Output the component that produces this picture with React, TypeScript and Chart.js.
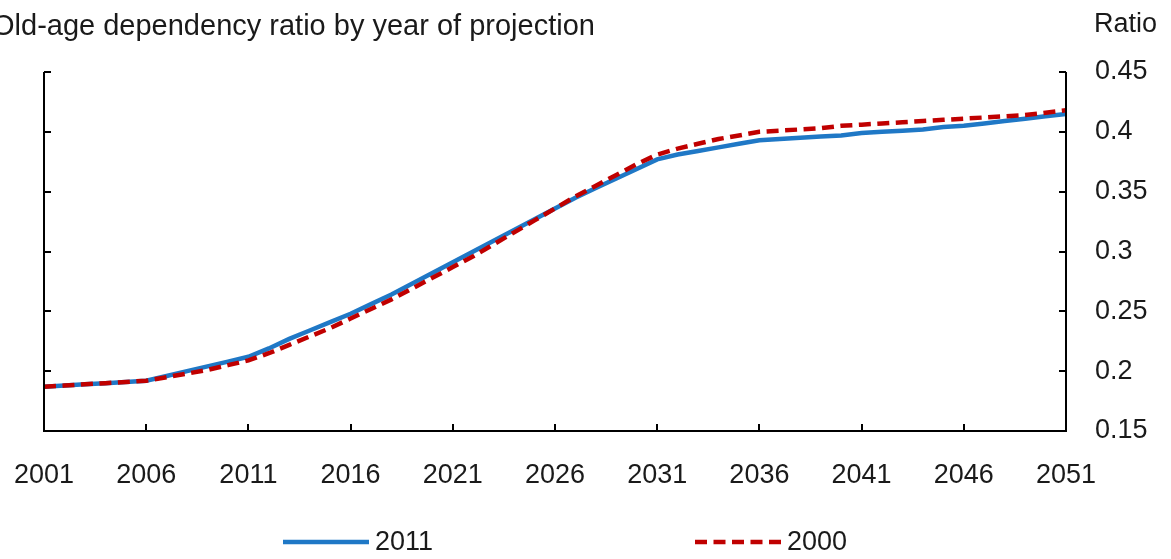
import React, { useEffect, useRef } from "react";
import { Chart, registerables } from "chart.js";

Chart.register(...registerables);

const years: number[] = [
  2001, 2002, 2003, 2004, 2005, 2006, 2007, 2008, 2009, 2010,
  2011, 2012, 2013, 2014, 2015, 2016, 2017, 2018, 2019, 2020,
  2021, 2022, 2023, 2024, 2025, 2026, 2027, 2028, 2029, 2030,
  2031, 2032, 2033, 2034, 2035, 2036, 2037, 2038, 2039, 2040,
  2041, 2042, 2043, 2044, 2045, 2046, 2047, 2048, 2049, 2050, 2051,
];

const series2011: number[] = [
  0.187, 0.188, 0.189, 0.190, 0.191, 0.192, 0.196, 0.200, 0.204, 0.208,
  0.212, 0.219, 0.227, 0.234, 0.241, 0.248, 0.256, 0.264, 0.273, 0.282,
  0.291, 0.300, 0.309, 0.318, 0.327, 0.336, 0.345, 0.353, 0.361, 0.369,
  0.377, 0.381, 0.384, 0.387, 0.390, 0.393, 0.394, 0.395, 0.396, 0.397,
  0.399, 0.400, 0.401, 0.402, 0.404, 0.405, 0.407, 0.409, 0.411, 0.413, 0.415,
];

const series2000: number[] = [
  0.187, 0.188, 0.189, 0.190, 0.191, 0.192, 0.195, 0.198, 0.201, 0.205,
  0.209, 0.215, 0.222, 0.229, 0.236, 0.244, 0.252, 0.260, 0.269, 0.278,
  0.287, 0.296, 0.306, 0.316, 0.326, 0.336, 0.346, 0.355, 0.364, 0.373,
  0.381, 0.386, 0.390, 0.394, 0.397, 0.400, 0.401, 0.402, 0.403, 0.405,
  0.406, 0.407, 0.408, 0.409, 0.410, 0.411, 0.412, 0.413, 0.414, 0.416, 0.418,
];

const seriesLabels: string[] = ["2011", "2000"];
const xTicks: number[] = [2001, 2006, 2011, 2016, 2021, 2026, 2031, 2036, 2041, 2046, 2051];
const yTicks: number[] = [0.15, 0.2, 0.25, 0.3, 0.35, 0.4, 0.45];

const titleText = "Old-age dependency ratio by year of projection";
const unitText = "Ratio";

const BLUE = "#1f78c6";
const RED = "#c00000";
const FONT = "'Liberation Sans', Arial, sans-serif";
const TEXT = "#1a1a1a";
const DASH = [12, 6.5];

const decorPlugin = {
  id: "decor",
  afterDraw(chart: any) {
    const ctx = chart.ctx as CanvasRenderingContext2D;
    const area = chart.chartArea;
    const xs = chart.scales.x;
    const ys = chart.scales.y;
    ctx.save();
    ctx.strokeStyle = "#000";
    ctx.lineWidth = 2;
    ctx.beginPath();
    ctx.moveTo(area.left, area.top);
    ctx.lineTo(area.left, area.bottom);
    ctx.lineTo(area.right, area.bottom);
    ctx.lineTo(area.right, area.top);
    ctx.stroke();
    const tl = 7;
    ctx.beginPath();
    xTicks.forEach((t) => {
      const px = Math.round(xs.getPixelForValue(t));
      ctx.moveTo(px, area.bottom);
      ctx.lineTo(px, area.bottom - tl);
    });
    yTicks.forEach((t) => {
      const py = Math.round(ys.getPixelForValue(t));
      ctx.moveTo(area.left, py);
      ctx.lineTo(area.left + tl, py);
      ctx.moveTo(area.right, py);
      ctx.lineTo(area.right - tl, py);
    });
    ctx.stroke();
    ctx.fillStyle = TEXT;
    ctx.textBaseline = "middle";
    ctx.textAlign = "left";
    ctx.font = `29px ${FONT}`;
    ctx.fillText(titleText, -8, 27);
    ctx.font = `27px ${FONT}`;
    ctx.fillText(unitText, 1094, 25);
    const ly = 542;
    const items = [
      { x: 283, color: BLUE, dash: [] as number[], label: seriesLabels[0] },
      { x: 695, color: RED, dash: DASH, label: seriesLabels[1] },
    ];
    items.forEach((it) => {
      ctx.strokeStyle = it.color;
      ctx.lineWidth = 4.5;
      ctx.setLineDash(it.dash);
      ctx.beginPath();
      ctx.moveTo(it.x, ly);
      ctx.lineTo(it.x + 86, ly);
      ctx.stroke();
      ctx.setLineDash([]);
      ctx.fillText(it.label, it.x + 92, ly + 1);
    });
    ctx.restore();
  },
};

export default function App() {
  const ref = useRef<HTMLCanvasElement | null>(null);
  useEffect(() => {
    document.body.style.margin = "0";
    const canvas = ref.current;
    if (!canvas) return;
    const chart = new Chart(canvas, {
      type: "line",
      data: {
        datasets: [
          {
            label: seriesLabels[0],
            data: years.map((y, i) => ({ x: y, y: series2011[i] })),
            borderColor: BLUE,
            borderWidth: 4.5,
            pointRadius: 0,
            tension: 0,
            order: 2,
          },
          {
            label: seriesLabels[1],
            data: years.map((y, i) => ({ x: y, y: series2000[i] })),
            borderColor: RED,
            borderWidth: 4.5,
            borderDash: DASH,
            pointRadius: 0,
            tension: 0,
            order: 1,
          },
        ],
      },
      plugins: [decorPlugin],
      options: {
        animation: false,
        responsive: false,
        maintainAspectRatio: false,
        devicePixelRatio: 1,
        layout: { padding: { top: 72, left: 44, right: 0, bottom: 0 } },
        plugins: {
          legend: { display: false },
          title: { display: false },
          tooltip: { enabled: false },
        },
        scales: {
          x: {
            type: "linear",
            min: 2001,
            max: 2051,
            grid: { display: false, drawTicks: false },
            border: { display: false },
            afterBuildTicks: (scale: any) => {
              scale.ticks = xTicks.map((v) => ({ value: v }));
            },
            afterFit: (scale: any) => {
              scale.height = 128;
              scale.paddingLeft = 0;
              scale.paddingRight = 0;
            },
            ticks: {
              padding: 28,
              maxRotation: 0,
              autoSkip: false,
              color: TEXT,
              font: { family: FONT, size: 27 },
              callback: (v: any) => String(v),
            },
          },
          y: {
            type: "linear",
            position: "right",
            min: 0.15,
            max: 0.45,
            grid: { display: false, drawTicks: false },
            border: { display: false },
            afterBuildTicks: (scale: any) => {
              scale.ticks = yTicks.map((v) => ({ value: v }));
            },
            afterFit: (scale: any) => {
              scale.width = 105;
              scale.paddingTop = 0;
              scale.paddingBottom = 0;
            },
            ticks: {
              padding: 29,
              color: TEXT,
              font: { family: FONT, size: 27 },
              callback: (v: any) => String(parseFloat(Number(v).toFixed(2))),
            },
          },
        },
      },
    } as any);
    return () => chart.destroy();
  }, []);
  return <canvas ref={ref} width={1171} height={559} style={{ display: "block" }} />;
}
